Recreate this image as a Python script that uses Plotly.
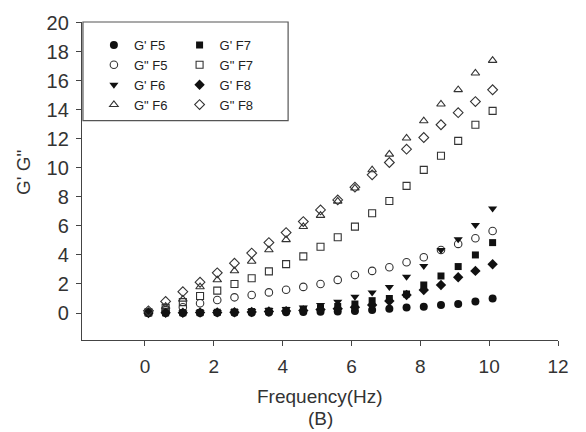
import plotly.graph_objects as go

freq = [0.1, 0.6, 1.1, 1.6, 2.1, 2.6, 3.1, 3.6, 4.1, 4.6, 5.1, 5.6, 6.1, 6.6, 7.1, 7.6, 8.1, 8.6, 9.1, 9.6, 10.1]

g1_f5 = [0, 0, 0, 0, 0.01, 0.01, 0.02, 0.03, 0.05, 0.07, 0.09, 0.11, 0.14, 0.2, 0.3, 0.38, 0.43, 0.55, 0.62, 0.8, 1.0]
g2_f5 = [0.02, 0.2, 0.4, 0.67, 0.9, 1.08, 1.24, 1.42, 1.6, 1.8, 2.0, 2.28, 2.62, 2.9, 3.15, 3.5, 3.84, 4.34, 4.76, 5.15, 5.65]
g1_f6 = [0, 0.02, 0.03, 0.05, 0.07, 0.1, 0.14, 0.2, 0.27, 0.38, 0.55, 0.78, 1.12, 1.42, 1.8, 2.5, 3.24, 4.34, 5.08, 6.07, 7.2]
g2_f6 = [0.1, 0.45, 0.95, 1.8, 2.28, 2.9, 3.56, 4.35, 5.05, 5.95, 6.72, 7.7, 8.6, 9.86, 10.94, 12.05, 13.24, 14.39, 15.38, 16.53, 17.4]
g1_f7 = [0, 0.01, 0.02, 0.03, 0.05, 0.07, 0.1, 0.13, 0.18, 0.25, 0.33, 0.45, 0.62, 0.85, 1.0, 1.31, 1.93, 2.55, 3.2, 4.0, 4.85]
g2_f7 = [0.05, 0.35, 0.75, 1.17, 1.54, 2.0, 2.39, 2.87, 3.37, 3.9, 4.57, 5.22, 5.95, 6.87, 7.72, 8.76, 9.86, 10.83, 11.86, 12.97, 13.93]
g1_f8 = [0, 0.01, 0.02, 0.03, 0.04, 0.05, 0.07, 0.1, 0.13, 0.18, 0.24, 0.3, 0.4, 0.55, 0.83, 1.24, 1.59, 1.93, 2.46, 2.9, 3.36]
g2_f8 = [0.15, 0.8, 1.47, 2.12, 2.77, 3.43, 4.13, 4.85, 5.54, 6.3, 7.1, 7.79, 8.67, 9.52, 10.37, 11.29, 12.09, 12.97, 13.8, 14.57, 15.38]

x_ticks = [0, 2, 4, 6, 8, 10, 12]
y_ticks = [0, 2, 4, 6, 8, 10, 12, 14, 16, 18, 20]

x_title = "Frequency(Hz)"
panel_label = "(B)"
y_title = 'G\' G"'

FONT = "Liberation Sans, Arial, sans-serif"
DARK = "#111111"
OPEN = "#333333"
TXT = "#333333"

series = [
    ("G' F5", g1_f5, "circle", "legend"),
    ('G" F5', g2_f5, "circle-open", "legend"),
    ("G' F6", g1_f6, "triangle-down", "legend"),
    ('G" F6', g2_f6, "triangle-up-open", "legend"),
    ("G' F7", g1_f7, "square", "legend2"),
    ('G" F7', g2_f7, "square-open", "legend2"),
    ("G' F8", g1_f8, "diamond", "legend2"),
    ('G" F8', g2_f8, "diamond-open", "legend2"),
]

fig = go.Figure()
for name, vals, sym, lg in series:
    is_open = sym.endswith("open")
    size = 7 if sym.startswith("square") else (7.5 if is_open else 8)
    fig.add_trace(go.Scatter(
        x=freq, y=vals, mode="markers", name=name, legend=lg,
        marker=dict(symbol=sym, size=size,
                    color=OPEN if is_open else DARK,
                    line=dict(width=1.1 if is_open else 0, color=OPEN if is_open else DARK)),
    ))

leg_common = dict(
    bgcolor="rgba(0,0,0,0)", borderwidth=0,
    font=dict(family=FONT, size=13, color="#222"),
    yanchor="top", xanchor="left", tracegroupgap=0, itemwidth=30,
)
fig.update_layout(
    width=586, height=432,
    margin=dict(l=82, r=28, t=22, b=92, autoexpand=False),
    paper_bgcolor="white", plot_bgcolor="white",
    font=dict(family=FONT, color=TXT),
    showlegend=True,
    legend=dict(x=0.025, y=0.975, **leg_common),
    legend2=dict(x=0.205, y=0.975, **leg_common),
    xaxis=dict(
        range=[-1.83, 12], tickvals=x_ticks, ticks="outside", ticklen=5, tickwidth=1,
        tickcolor="#444", showline=True, linecolor="#444", linewidth=1.3,
        showgrid=False, zeroline=False, tickfont=dict(size=19, family=FONT, color=TXT),
        ticklabelstandoff=4, automargin=False,
    ),
    yaxis=dict(
        range=[-1.86, 20.05], tickvals=y_ticks, ticks="outside", ticklen=5, tickwidth=1,
        tickcolor="#444", showline=True, linecolor="#444", linewidth=1.3,
        showgrid=False, zeroline=False, tickfont=dict(size=20, family=FONT, color=TXT),
        ticklabelstandoff=3, automargin=False,
    ),
)
fig.add_annotation(text=x_title, xref="paper", yref="paper", x=0.5, y=0, yanchor="middle",
                   yshift=-56, showarrow=False, font=dict(size=19, family=FONT, color=TXT))
fig.add_annotation(text=panel_label, xref="paper", yref="paper", x=0.5, y=0, yanchor="middle",
                   yshift=-78, showarrow=False, font=dict(size=19, family=FONT, color=TXT))
fig.add_annotation(text=y_title, xref="paper", yref="paper", x=0, y=0.5, xanchor="center",
                   xshift=-59, yshift=8, textangle=-90, showarrow=False,
                   font=dict(size=19, family=FONT, color=TXT))
fig.add_shape(type="rect", xref="paper", yref="paper", x0=0.002, x1=0.433, y0=0.69, y1=1.0,
              line=dict(color="#555", width=1.2), fillcolor="rgba(0,0,0,0)")

fig.write_html("out.html")
